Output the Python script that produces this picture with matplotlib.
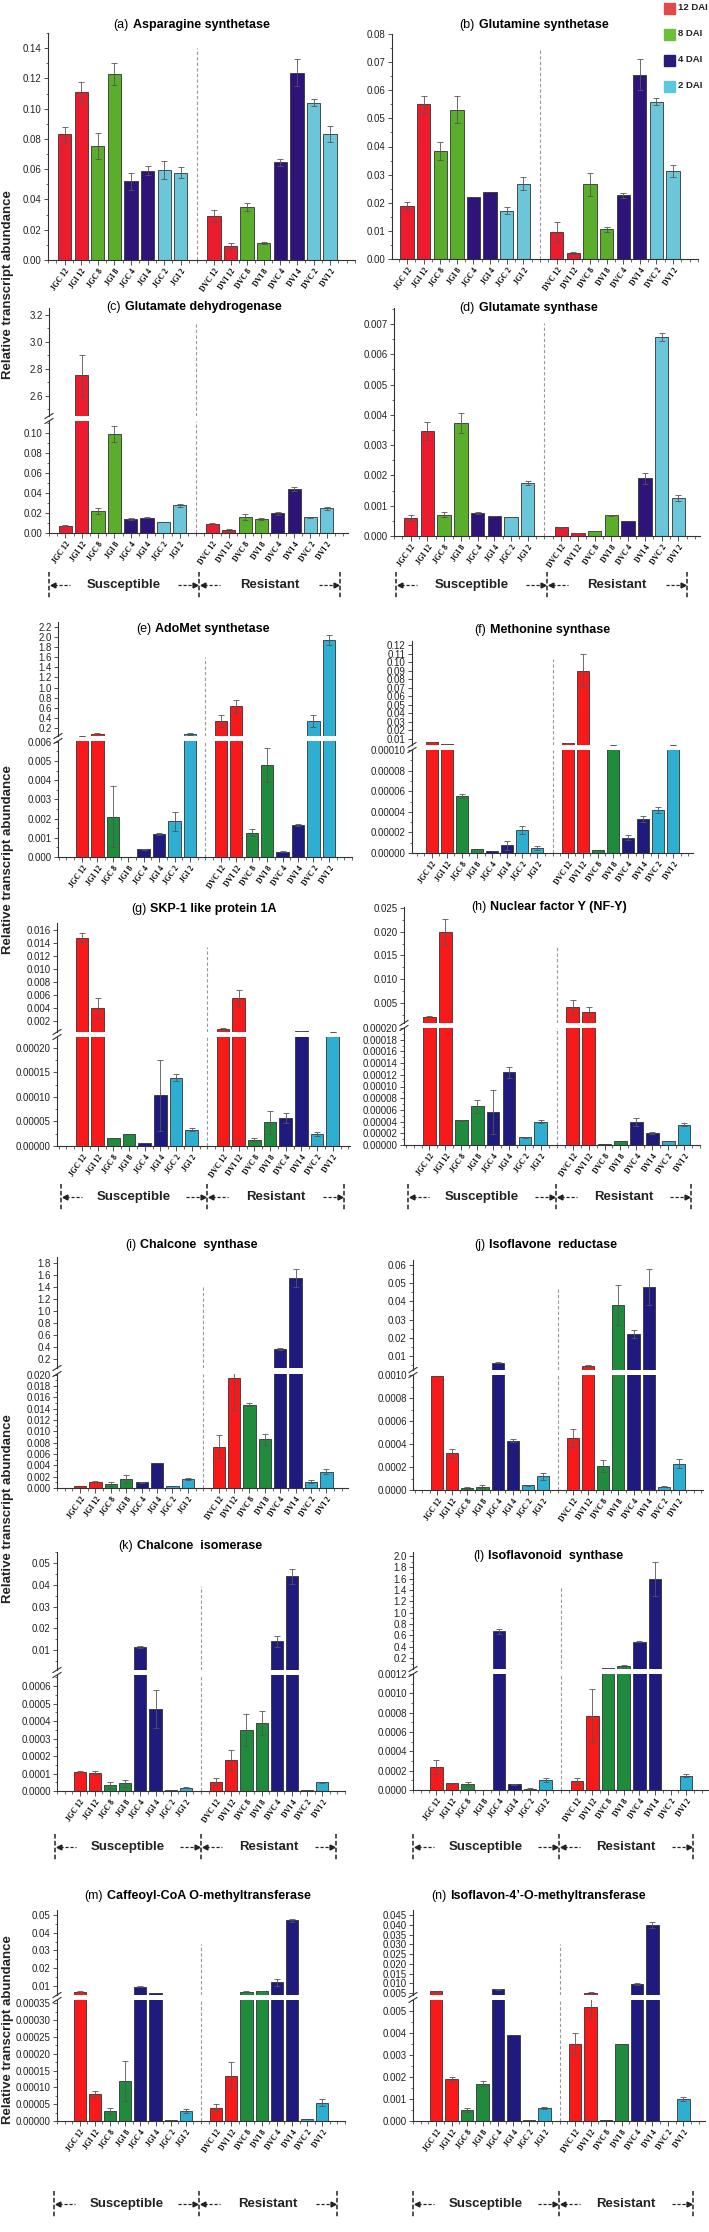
import matplotlib
matplotlib.use("Agg")
import matplotlib.pyplot as plt
from matplotlib.patches import Rectangle
from matplotlib.ticker import MultipleLocator, FormatStrFormatter

plt.rcParams['font.family'] = ['Liberation Sans', 'DejaVu Sans']

W, H = 709, 2232

sample_labels = ["JGC 12", "JGI 12", "JGC 8", "JGI 8", "JGC 4", "JGI 4", "JGC 2", "JGI 2",
                 "DVC 12", "DVI 12", "DVC 8", "DVI 8", "DVC 4", "DVI 4", "DVC 2", "DVI 2"]
dai_labels = ["12 DAI", "8 DAI", "4 DAI", "2 DAI"]

# relative transcript abundance (mean) and error for each gene, order as sample_labels
asn_syn = [0.083, 0.111, 0.0755, 0.123, 0.052, 0.059, 0.0594, 0.0578,
           0.029, 0.0095, 0.035, 0.0113, 0.0645, 0.1237, 0.1038, 0.0833]
asn_syn_err = [0.005, 0.0065, 0.0085, 0.0075, 0.0055, 0.003, 0.006, 0.0035,
               0.004, 0.002, 0.0025, 0.0005, 0.0025, 0.0088, 0.0023, 0.0052]

gln_syn = [0.019, 0.055, 0.0385, 0.053, 0.0219, 0.0238, 0.0172, 0.0268,
           0.0095, 0.0022, 0.0265, 0.0106, 0.0226, 0.0655, 0.056, 0.0313]
gln_syn_err = [0.0012, 0.003, 0.0032, 0.0048, 0, 0, 0.0012, 0.0024,
               0.0036, 0.0003, 0.0042, 0.0009, 0.0008, 0.0055, 0.0011, 0.0022]

glu_dh = [0.0075, 2.75, 0.022, 0.099, 0.014, 0.0155, 0.011, 0.0278,
          0.0095, 0.0035, 0.0163, 0.0145, 0.0197, 0.0443, 0.0157, 0.0247]
glu_dh_err = [0.0003, 0.15, 0.003, 0.008, 0.0007, 0.0005, 0, 0.0015,
              0.0005, 0.001, 0.003, 0.001, 0.0013, 0.0018, 0.0004, 0.0013]

glu_syn = [0.00058, 0.00346, 0.0007, 0.00374, 0.00075, 0.00066, 0.00064, 0.00175,
           0.00029, 0.0001, 0.00017, 0.00069, 0.00048, 0.0019, 0.00657, 0.00126]
glu_syn_err = [0.0001, 0.0003, 0.00008, 0.00033, 0.00003, 0.00001, 0, 0.00007,
               0.00002, 0.00001, 0.00001, 0.00002, 0, 0.00017, 0.00012, 0.0001]

adomet = [0.045, 0.08, 0.0021, 0.0, 0.0004, 0.00122, 0.00185, 0.08,
          0.33, 0.63, 0.00127, 0.0048, 0.00027, 0.00165, 0.33, 1.95]
adomet_err = [0.003, 0.01, 0.0016, 0, 0.00002, 0.00005, 0.0005, 0.012,
              0.12, 0.13, 0.0002, 0.0009, 0.00002, 0.00005, 0.12, 0.1]

met_syn = [0.0065, 0.0042, 0.000055, 0.000004, 0.0000015, 0.0000075, 0.000022, 0.0000045,
           0.0053, 0.09, 0.000003, 0.0033, 0.000015, 0.000033, 0.000042, 0.0033]
met_syn_err = [0.0003, 0.0003, 0.000002, 0, 0, 0.0000045, 0.000004, 0.000002,
               0.0005, 0.019, 0, 0.0002, 0.000002, 0.000003, 0.000003, 0.0002]

skp1 = [0.0148, 0.004, 0.000017, 0.000024, 0.000007, 0.000103, 0.000139, 0.000033,
        0.00077, 0.0055, 0.000013, 0.000048, 0.000057, 0.0004, 0.000024, 0.00035]
skp1_err = [0.0007, 0.0015, 0, 0, 0, 0.000072, 0.000007, 0.000003,
            0.0001, 0.0013, 0.000003, 0.000023, 0.00001, 0.00002, 0.000004, 0.00002]

nfy = [0.0021, 0.020, 0.000042, 0.000066, 0.000056, 0.000124, 0.000013, 0.00004,
       0.0041, 0.0031, 0.000002, 0.000006, 0.00004, 0.000021, 0.000006, 0.000035]
nfy_err = [0.00005, 0.0027, 0.000001, 0.000011, 0.000038, 0.00001, 0.000001, 0.000003,
           0.0015, 0.001, 0, 0, 0.000007, 0.000002, 0, 0.000003]

chs = [0.0003, 0.0011, 0.0007, 0.0016, 0.001, 0.0044, 0.0003, 0.0016,
       0.0073, 0.0194, 0.0147, 0.0086, 0.37, 1.55, 0.0011, 0.0029]
chs_err = [0, 0.0001, 0.0003, 0.0007, 0.0001, 0, 0, 0.0002,
           0.002, 0.0056, 0.0002, 0.001, 0.02, 0.15, 0.0003, 0.0004]

ifr = [0.00099, 0.00032, 0.00002, 0.00003, 0.0063, 0.00043, 0.00004, 0.00012,
       0.00045, 0.0045, 0.00021, 0.038, 0.022, 0.048, 0.00003, 0.00023]
ifr_err = [0, 0.00004, 0.00001, 0.00001, 0.0002, 0.00001, 0.000005, 0.00003,
           0.00008, 0.0003, 0.00005, 0.011, 0.002, 0.01, 0.000005, 0.00004]

chi = [0.00011, 0.000103, 0.000035, 0.000043, 0.0113, 0.00047, 0.000004, 0.00002,
       0.000052, 0.000175, 0.00035, 0.00039, 0.0141, 0.044, 0.000003, 0.00005]
chi_err = [0.000003, 0.00001, 0.000018, 0.00002, 0.0004, 0.00011, 0, 0.000003,
           0.00002, 0.00006, 0.00009, 0.00007, 0.0025, 0.0035, 0, 0.000004]

ifs = [0.00024, 0.00007, 0.00006, 0.000005, 0.67, 0.00006, 0.000015, 0.0001,
       0.00009, 0.00077, 0.025, 0.06, 0.49, 1.6, 0.000005, 0.00015]
ifs_err = [0.00007, 0.000005, 0.00002, 0, 0.05, 0.000005, 0.000003, 0.00002,
           0.00003, 0.00028, 0.003, 0.01, 0.01, 0.3, 0, 0.00002]

ccoaomt = [0.0068, 0.00008, 0.00003, 0.00012, 0.0095, 0.0058, 0.000003, 0.00003,
           0.00004, 0.000135, 0.0068, 0.0072, 0.012, 0.047, 0.000005, 0.000055]
ccoaomt_err = [0.0002, 0.00001, 0.00001, 0.00006, 0.0003, 0, 0, 0.000005,
               0.00001, 0.00004, 0.0002, 0.0002, 0.002, 0.001, 0, 0.00001]

i4omt = [0.0058, 0.0019, 0.0005, 0.0017, 0.007, 0.0039, 0.00005, 0.0006,
         0.0035, 0.0052, 0.00005, 0.0035, 0.0097, 0.040, 0.00002, 0.001]
i4omt_err = [0.0002, 0.0001, 0.0001, 0.0001, 0.0002, 0, 0, 0.00005,
             0.0005, 0.0005, 0, 0, 0.0005, 0.0015, 0, 0.0001]

pal_a = ['#EC1C2E', '#5BAE2C', '#2E1478', '#6BC6D9']
pal_b = ['#F81A1A', '#1E8C3C', '#1E1A7E', '#2EAED0']
legend_cols = ['#E24A4A', '#6BBF3A', '#2A1A7A', '#5CC8E0']

POS = list(range(8)) + list(range(9, 17))

fig = plt.figure(figsize=(W / 100, H / 100), dpi=100)


def px_axes(x0, x1, y0, y1):
    return fig.add_axes([x0 / W, 1 - y1 / H, (x1 - x0) / W, (y1 - y0) / H])


def style_y(ax, ylim, major, minor, fmt):
    ax.set_ylim(*ylim)
    ax.yaxis.set_major_locator(MultipleLocator(major))
    if minor:
        ax.yaxis.set_minor_locator(MultipleLocator(minor))
    ax.yaxis.set_major_formatter(FormatStrFormatter(fmt))
    for s in ('top', 'right'):
        ax.spines[s].set_visible(False)
    for s in ('left', 'bottom'):
        ax.spines[s].set_linewidth(0.8)
        ax.spines[s].set_color('#333333')
    ax.tick_params(axis='y', which='major', length=3, width=0.6, labelsize=7, pad=1.5,
                   color='#333333', labelcolor='#222222')
    ax.tick_params(axis='y', which='minor', length=1.8, width=0.5, color='#333333')
    ax.patch.set_alpha(0)


def draw_bars(ax, vals, errs, pal, floor=None):
    cols = [pal[(i % 8) // 2] for i in range(16)]
    keep = [i for i in range(16) if floor is None or vals[i] > floor]
    ax.bar([POS[i] for i in keep], [vals[i] for i in keep], width=0.8,
           color=[cols[i] for i in keep], edgecolor='#333333', linewidth=0.6)
    ke = [i for i in keep if errs[i] > 0]
    ax.errorbar([POS[i] for i in ke], [vals[i] for i in ke], yerr=[errs[i] for i in ke],
                fmt='none', ecolor='#555555', elinewidth=0.6, capsize=2, capthick=0.6)


def panel(vals, errs, pal, L):
    x0, x1 = L['x']
    low = px_axes(x0, x1, *L['low'])
    draw_bars(low, vals, errs, pal)
    style_y(low, L['ylim'], L['step'][0], L['step'][1], L['fmt'])
    low.set_xlim(*L['xlim'])
    low.set_xticks(POS)
    low.set_xticklabels(sample_labels, rotation=55, ha='right', va='top',
                        rotation_mode='anchor', fontsize=5.5,
                        fontfamily='Liberation Serif', fontweight='bold')
    low.xaxis.set_minor_locator(MultipleLocator(0.5))
    low.tick_params(axis='x', which='major', length=3.5, width=0.6, pad=2, color='#333333')
    low.tick_params(axis='x', which='minor', length=2, width=0.5, color='#333333')
    dash = dict(color='#999999', lw=0.8, ls=(0, (3, 2)))
    if 'up' in L:
        up = px_axes(x0, x1, *L['up'])
        draw_bars(up, vals, errs, pal, floor=L['uylim'][0])
        style_y(up, L['uylim'], L['ustep'][0], L['ustep'][1], L['ufmt'])
        up.set_xlim(*L['xlim'])
        up.spines['bottom'].set_visible(False)
        up.set_xticks([])
        low.axvline(8, 0, 1, **dash)
        ut, ub = L['up']
        up.axvline(8, 0, (ub - L['div']) / (ub - ut), **dash)
        lt = L['low'][0]
        for yy in (ub, lt):
            ov.plot([x0 - 4, x0 + 4], [yy + 2.5, yy - 2.5], color='#333333', lw=0.8)
    else:
        lt, lb = L['low']
        low.axvline(8, 0, (lb - L['div']) / (lb - lt), **dash)
    sx, ty = L['title']
    ov.text(sx - 2, ty, L['tag'], ha='right', va='center', fontsize=9)
    ov.text(sx + 2, ty, L['name'], ha='left', va='center', fontsize=9, fontweight='bold')


def group_row(y, xs):
    dk = dict(color='#222222', lw=1.1, ls=(0, (3, 1.5)))
    for x in xs:
        ov.plot([x, x], [y - 13, y + 13], **dk)
    for (xa, xb), word in zip([(xs[0], xs[1]), (xs[1], xs[2])], ["Susceptible", "Resistant"]):
        ov.plot([xa + 5, xa + 21], [y, y], color='#222222', lw=0.9, ls=(0, (2.5, 1.5)))
        ov.plot([xa + 4], [y], marker='<', ms=3.5, color='#222222')
        ov.plot([xb - 21, xb - 5], [y, y], color='#222222', lw=0.9, ls=(0, (2.5, 1.5)))
        ov.plot([xb - 4], [y], marker='>', ms=3.5, color='#222222')
        ov.text((xa + xb) / 2, y, word, ha='center', va='center', fontsize=9.5,
                fontweight='bold', color='#222222')


ov = fig.add_axes([0, 0, 1, 1], zorder=10)
ov.set_xlim(0, W)
ov.set_ylim(H, 0)
ov.axis('off')

layouts = {
    'a': dict(x=(48, 355), xlim=(-1.0, 17.5), low=(33, 260), ylim=(0, 0.15), step=(0.02, 0.01),
              fmt='%.2f', div=48, title=(131, 25), tag='(a)', name='Asparagine synthetase'),
    'b': dict(x=(392, 698), xlim=(-0.9, 17.5), low=(34, 259), ylim=(0, 0.08), step=(0.01, 0.005),
              fmt='%.2f', div=48, title=(477, 25), tag='(b)', name='Glutamine synthetase'),
    'c': dict(x=(49, 348), xlim=(-1.0, 17.3), low=(421, 533), ylim=(0, 0.112), step=(0.02, 0.01),
              fmt='%.2f', up=(308, 416), uylim=(2.45, 3.25), ustep=(0.2, 0.1), ufmt='%.1f',
              div=322, title=(123, 307), tag='(c)', name='Glutamate dehydrogenase'),
    'd': dict(x=(394, 700), xlim=(-1.0, 17.3), low=(308, 536), ylim=(0, 0.00753), step=(0.001, 0.0005),
              fmt='%.3f', div=323, title=(477, 308), tag='(d)', name='Glutamate synthase'),
    'e': dict(x=(58, 352), xlim=(-1.55, 17.5), low=(741, 857), ylim=(0, 0.00604), step=(0.001, 0.0005),
              fmt='%.3f', up=(622, 736), uylim=(0.04, 2.3), ustep=(0.2, None), ufmt='%.1f',
              div=657, title=(153, 629), tag='(e)', name='AdoMet synthetase'),
    'f': dict(x=(412, 693), xlim=(-1.3, 17.3), low=(750, 853), ylim=(0, 0.0001), step=(0.00002, 0.00001),
              fmt='%.5f', up=(641, 745), uylim=(0.003, 0.1247), ustep=(0.01, None), ufmt='%.2f',
              div=659, title=(488, 630), tag='(f)', name='Methonine synthase'),
    'g': dict(x=(57, 350), xlim=(-1.6, 17.1), low=(1037, 1146), ylim=(0, 0.000222), step=(0.00005, 0.000025),
              fmt='%.5f', up=(923, 1032), uylim=(0.0003, 0.0171), ustep=(0.002, None), ufmt='%.3f',
              div=947, title=(148, 909), tag='(g)', name='SKP-1 like protein 1A'),
    'h': dict(x=(404, 700), xlim=(-1.6, 17.0), low=(1028, 1145), ylim=(0, 0.0002), step=(0.00002, 0.00001),
              fmt='%.5f', up=(907, 1023), uylim=(0.00078, 0.0252), ustep=(0.005, 0.0025), ufmt='%.3f',
              div=947, title=(488, 907), tag='(h)', name='Nuclear factor Y (NF-Y)'),
    'i': dict(x=(57, 348), xlim=(-1.5, 17.4), low=(1374, 1488), ylim=(0, 0.0201), step=(0.002, 0.001),
              fmt='%.3f', up=(1257, 1368), uylim=(0.05, 1.9), ustep=(0.2, None), ufmt='%.1f',
              div=1287, title=(138, 1245), tag='(i)', name='Chalcone  synthase'),
    'j': dict(x=(413, 703), xlim=(-1.6, 17.6), low=(1375, 1490), ylim=(0, 0.001), step=(0.0002, 0.0001),
              fmt='%.4f', up=(1260, 1370), uylim=(0.0023, 0.0627), ustep=(0.01, 0.005), ufmt='%.2f',
              div=1287, title=(487, 1245), tag='(j)', name='Isoflavone  reductase'),
    'k': dict(x=(57, 345), xlim=(-1.5, 17.5), low=(1675, 1791), ylim=(0, 0.000663), step=(0.0001, 0.00005),
              fmt='%.4f', up=(1552, 1670), uylim=(0.0008, 0.0552), ustep=(0.01, 0.005), ufmt='%.2f',
              div=1586, title=(135, 1546), tag='(k)', name='Chalcone  isomerase'),
    'l': dict(x=(413, 708), xlim=(-1.5, 17.4), low=(1674, 1790), ylim=(0, 0.0012), step=(0.0002, 0.0001),
              fmt='%.4f', up=(1552, 1669), uylim=(0.006, 2.07), ustep=(0.2, 0.1), ufmt='%.1f',
              div=1587, title=(486, 1556), tag='(l)', name='Isoflavonoid  synthase'),
    'm': dict(x=(57, 345), xlim=(-1.5, 17.5), low=(2000, 2121), ylim=(0, 0.00036), step=(0.00005, 0.000025),
              fmt='%.5f', up=(1910, 1995), uylim=(0.0049, 0.0528), ustep=(0.01, 0.005), ufmt='%.2f',
              div=1944, title=(105, 1896), tag='(m)', name='Caffeoyl-CoA O-methyltransferase'),
    'n': dict(x=(413, 705), xlim=(-1.5, 17.4), low=(2000, 2121), ylim=(0, 0.0055), step=(0.001, 0.0005),
              fmt='%.3f', up=(1910, 1995), uylim=(0.004, 0.0476), ustep=(0.005, None), ufmt='%.3f',
              div=1944, title=(448, 1896), tag='(n)', name='Isoflavon-4\u2019-O-methyltransferase'),
}

panel(asn_syn, asn_syn_err, pal_a, layouts['a'])
panel(gln_syn, gln_syn_err, pal_a, layouts['b'])
panel(glu_dh, glu_dh_err, pal_a, layouts['c'])
panel(glu_syn, glu_syn_err, pal_a, layouts['d'])
panel(adomet, adomet_err, pal_b, layouts['e'])
panel(met_syn, met_syn_err, pal_b, layouts['f'])
panel(skp1, skp1_err, pal_b, layouts['g'])
panel(nfy, nfy_err, pal_b, layouts['h'])
panel(chs, chs_err, pal_b, layouts['i'])
panel(ifr, ifr_err, pal_b, layouts['j'])
panel(chi, chi_err, pal_b, layouts['k'])
panel(ifs, ifs_err, pal_b, layouts['l'])
panel(ccoaomt, ccoaomt_err, pal_b, layouts['m'])
panel(i4omt, i4omt_err, pal_b, layouts['n'])

# Susceptible / Resistant brackets
group_row(585, (49, 199, 340))
group_row(585, (396, 547, 687))
group_row(1197, (61, 207, 344))
group_row(1197, (408, 556, 691))
group_row(1847, (55, 201, 336))
group_row(1847, (413, 559, 693))
group_row(2204, (54, 199, 337))
group_row(2204, (413, 559, 693))

for yc in (285, 860, 1509, 2030):
    ov.text(8, yc, "Relative transcript abundance", rotation=90, ha='center', va='center',
            fontsize=9.5, fontweight='bold', color='#222222')

for i, (lab, col) in enumerate(zip(dai_labels, legend_cols)):
    yy = 8 + i * 26
    ov.add_patch(Rectangle((664, yy - 5.5), 11, 11, color=col))
    ov.text(678, yy, lab, ha='left', va='center', fontsize=6.8, fontweight='bold', color='#222222')

fig.savefig("out.png", dpi=100)
